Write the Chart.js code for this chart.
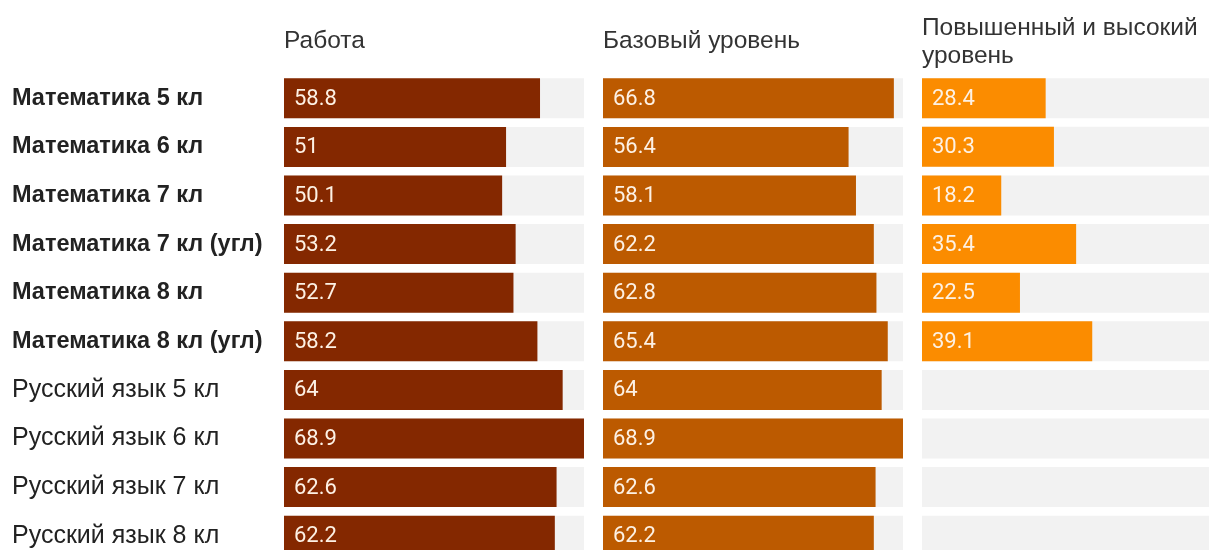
<!DOCTYPE html>
<html>
<head>
<meta charset="utf-8">
<script src="https://cdn.jsdelivr.net/npm/chart.js@4"></script>
<style>
  html, body { margin: 0; padding: 0; background: #fff; overflow: hidden; width: 1209px; height: 550px; }
  canvas { position: absolute; top: 0; }
</style>
</head>
<body>
<canvas id="c1" width="584" height="560" style="left:0"></canvas>
<canvas id="c2" width="300" height="560" style="left:603px"></canvas>
<canvas id="c3" width="300" height="560" style="left:922px"></canvas>
<script>
const categories = [
    "Математика 5 кл", "Математика 6 кл", "Математика 7 кл", "Математика 7 кл (угл)",
    "Математика 8 кл", "Математика 8 кл (угл)", "Русский язык 5 кл", "Русский язык 6 кл",
    "Русский язык 7 кл", "Русский язык 8 кл"
];
const rabota = [58.8, 51, 50.1, 53.2, 52.7, 58.2, 64, 68.9, 62.6, 62.2];
const bazovy = [66.8, 56.4, 58.1, 62.2, 62.8, 65.4, 64, 68.9, 62.6, 62.2];
const povysh = [28.4, 30.3, 18.2, 35.4, 22.5, 39.1, null, null, null, null];
const titles = ["Работа", "Базовый уровень", ["Повышенный и высокий", "уровень"]];
const trackMax = 68.9;

const textFont = "'Liberation Sans', Arial, sans-serif";

// draws the value inside each bar
const valueLabels = {
    id: "valueLabels",
    afterDatasetsDraw(chart) {
        const ctx = chart.ctx;
        const meta = chart.getDatasetMeta(1);
        const values = chart.data.datasets[1].data;
        ctx.save();
        ctx.font = "22px Roboto";
        ctx.fillStyle = "#fdf1e4";
        ctx.textBaseline = "middle";
        ctx.textAlign = "left";
        meta.data.forEach((bar, i) => {
            if (values[i] == null) return;
            ctx.fillText(String(values[i]), bar.base + 10, bar.y + 1);
        });
        ctx.restore();
    }
};

function makeChart(id, values, color, title, withLabels) {
    const twoLines = Array.isArray(title);
    new Chart(document.getElementById(id), {
        type: "bar",
        data: {
            labels: categories,
            datasets: [
                {
                    data: categories.map(() => trackMax),
                    backgroundColor: "#f2f2f2",
                    order: 2
                },
                {
                    data: values,
                    backgroundColor: color,
                    order: 1
                }
            ]
        },
        options: {
            indexAxis: "y",
            responsive: false,
            animation: false,
            devicePixelRatio: 1,
            layout: { padding: { left: withLabels ? 12 : 0, right: 0, top: 0, bottom: 0 } },
            datasets: {
                bar: { grouped: false, barPercentage: 1, categoryPercentage: 0.823, borderWidth: 0 }
            },
            scales: {
                x: { display: false, min: 0, max: trackMax },
                y: {
                    display: withLabels,
                    grid: { display: false },
                    border: { display: false },
                    ticks: {
                        crossAlign: "far",
                        color: "#222",
                        font: ctx => ctx.index < 6
                            ? { family: textFont, size: 23.5, weight: "bold" }
                            : { family: textFont, size: 25, weight: "normal" }
                    },
                    afterFit: scale => {
                        if (!withLabels) return;
                        scale.width = 272;
                        scale.paddingTop = 0;
                        scale.paddingBottom = 0;
                    }
                }
            },
            plugins: {
                legend: { display: false },
                tooltip: { enabled: false },
                title: {
                    display: true,
                    text: title,
                    align: "start",
                    fullSize: false,
                    color: "#333",
                    font: { family: textFont, size: 24.5, weight: "normal", lineHeight: 1.15 },
                    padding: twoLines ? { top: 14, bottom: 3.6 } : { top: 27, bottom: 18.8 }
                }
            }
        },
        plugins: [valueLabels]
    });
}

makeChart("c1", rabota, "#842800", titles[0], true);
makeChart("c2", bazovy, "#bc5a00", titles[1], false);
makeChart("c3", povysh, "#fb8c00", titles[2], false);
</script>
</body>
</html>
